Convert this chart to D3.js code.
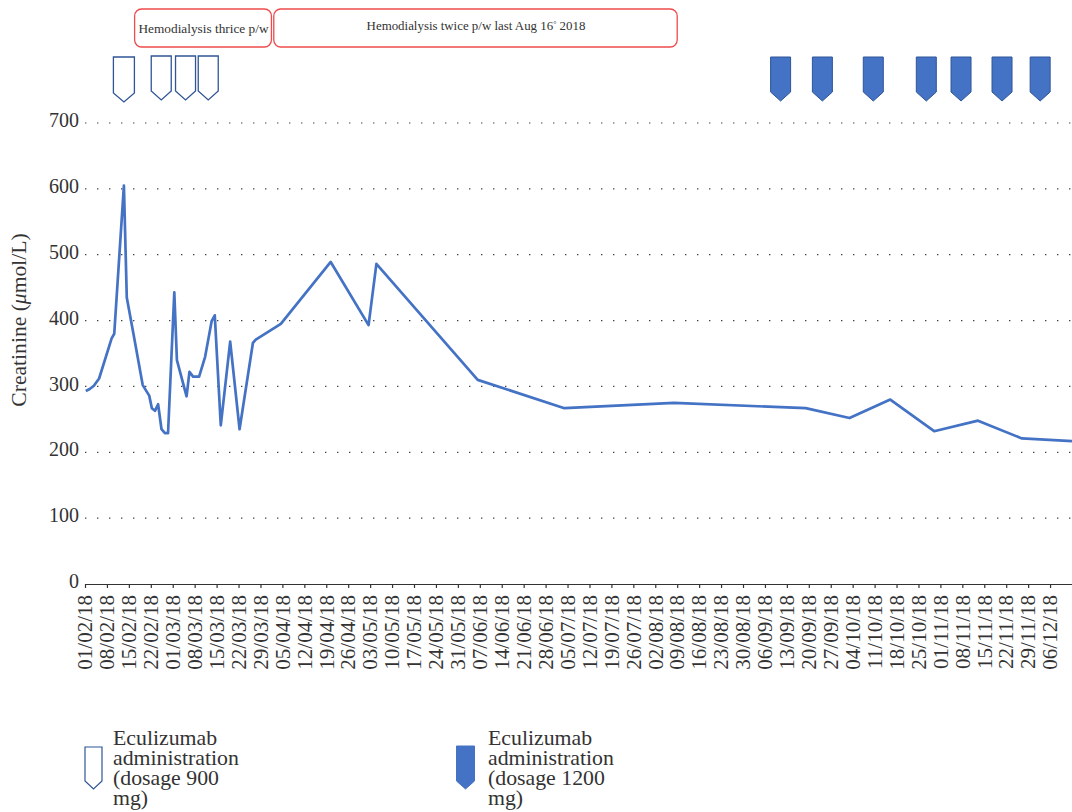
<!DOCTYPE html>
<html>
<head>
<meta charset="utf-8">
<script src="https://d3js.org/d3.v7.min.js"></script>
<style>
    html, body { margin: 0; padding: 0; background: #fff; }
    svg { display: block; }
    text { font-family: "Liberation Serif", serif; fill: #333; }
</style>
</head>
<body>
<div class="chart"></div>
<script>
// weekly tick dates on the x axis
const tickDates = ["01/02/18", "08/02/18", "15/02/18", "22/02/18", "01/03/18", "08/03/18", "15/03/18", "22/03/18", "29/03/18",
    "05/04/18", "12/04/18", "19/04/18", "26/04/18", "03/05/18", "10/05/18", "17/05/18", "24/05/18", "31/05/18",
    "07/06/18", "14/06/18", "21/06/18", "28/06/18", "05/07/18", "12/07/18", "19/07/18", "26/07/18",
    "02/08/18", "09/08/18", "16/08/18", "23/08/18", "30/08/18", "06/09/18", "13/09/18", "20/09/18", "27/09/18",
    "04/10/18", "11/10/18", "18/10/18", "25/10/18", "01/11/18", "08/11/18", "15/11/18", "22/11/18", "29/11/18", "06/12/18"]

const yTicks = [0, 100, 200, 300, 400, 500, 600, 700]

// creatinine series
const sampleDates = ["2018-02-01T06", "2018-02-02T12", "2018-02-03T20", "2018-02-05T12", "2018-02-09T12", "2018-02-10T08",
    "2018-02-13T10", "2018-02-14T08", "2018-02-16T10", "2018-02-19T10", "2018-02-21T12", "2018-02-22T08", "2018-02-23T08",
    "2018-02-24T08", "2018-02-25T10", "2018-02-26T12", "2018-02-27T12", "2018-03-01T12", "2018-03-02T08", "2018-03-05T10",
    "2018-03-06T08", "2018-03-07T12", "2018-03-09T10", "2018-03-11T08", "2018-03-13T10", "2018-03-14T10", "2018-03-16T08",
    "2018-03-19T08", "2018-03-22T08", "2018-03-26T14", "2018-03-27T12", "2018-04-04T12", "2018-04-20T10", "2018-05-02T12",
    "2018-05-05T00", "2018-06-06T08", "2018-07-04T00", "2018-08-08T00", "2018-09-19T00", "2018-10-03T00", "2018-10-16T00",
    "2018-10-30T00", "2018-11-13T00", "2018-11-27T00", "2018-12-13T00"]
const creatinine = [293, 296, 301, 312, 373, 380, 605, 435, 381, 302, 286, 267, 263, 273, 235, 229, 229, 443, 340, 285,
    322, 315, 315, 345, 399, 408, 241, 368, 235, 366, 371, 395, 489, 393, 486, 310, 267, 275, 267, 252, 280, 232, 248, 221, 217]

// eculizumab doses
const doses900 = ["2018-02-13T10", "2018-02-25T08", "2018-03-05T02", "2018-03-12T08"]
const doses1200 = ["2018-09-11T00", "2018-09-24T08", "2018-10-10T14", "2018-10-27T12", "2018-11-07T14", "2018-11-20T16", "2018-12-02T20"]

// hemodialysis periods
const dialysisStart = ["2018-02-16T20", "2018-04-02T06"]
const dialysisEnd = ["2018-04-01T12", "2018-08-09T00"]
const dialysisLabels = ["Hemodialysis thrice p/w", "Hemodialysis twice p/w last Aug 16° 2018"]

const legendLines900 = ["Eculizumab", "administration", "(dosage 900", "mg)"]
const legendLines1200 = ["Eculizumab", "administration", "(dosage 1200", "mg)"]

const width = 1072
const height = 812
const blue = "#4472C4"
const darkBlue = "#2F5597"

const parseTick = d3.utcParse("%d/%m/%y")
const parseSample = d3.utcParse("%Y-%m-%dT%H")

const svg = d3.select(".chart")
    .append("svg")
    .attr("width", width)
    .attr("height", height)

const x = d3.scaleUtc()
    .domain([parseTick("01/02/18"), parseTick("13/12/18")])
    .range([85, 1072])

const y = d3.scaleLinear()
    .domain([0, 700])
    .range([584, 123])

// dotted grid
svg.append("g")
    .selectAll("line")
    .data(yTicks.filter(d => d > 0))
    .join("line")
    .attr("x1", 85)
    .attr("x2", 1072)
    .attr("y1", d => y(d))
    .attr("y2", d => y(d))
    .attr("stroke", "#444")
    .attr("stroke-width", 1.2)
    .attr("stroke-dasharray", "1.4 10.6")

// y axis, labels only
const yAxis = svg.append("g")
    .attr("transform", "translate(85,0)")
    .call(d3.axisLeft(y).tickValues(yTicks).tickSize(0))
yAxis.select(".domain").remove()
yAxis.selectAll("text")
    .attr("x", -6)
    .attr("dy", "0.18em")
    .attr("font-size", 20)
    .attr("font-family", "Liberation Serif")
    .attr("fill", "#333")

const yLabel = svg.append("text")
    .attr("transform", "translate(25.5,320) rotate(-90)")
    .attr("text-anchor", "middle")
    .attr("font-size", 21.6)
yLabel.append("tspan").text("Creatinine (")
yLabel.append("tspan").attr("font-style", "italic").text("μ")
yLabel.append("tspan").text("mol/L)")

// x axis
const xAxis = svg.append("g")
    .attr("transform", "translate(0,584)")
    .call(d3.axisBottom(x)
        .tickValues(tickDates.map(parseTick))
        .tickSize(4)
        .tickSizeOuter(0)
        .tickFormat(d3.utcFormat("%d/%m/%y")))
xAxis.select(".domain").attr("stroke", "#333").attr("stroke-width", 1.2)
xAxis.selectAll(".tick line").attr("stroke", "#333").attr("stroke-width", 1.2)
xAxis.selectAll("text")
    .attr("transform", "rotate(-90)")
    .attr("text-anchor", "end")
    .attr("x", -11)
    .attr("y", 0)
    .attr("dy", "0.32em")
    .attr("font-size", 21)
    .attr("font-family", "Liberation Serif")
    .attr("fill", "#333")

// creatinine line
const line = d3.line()
    .x((d, i) => x(parseSample(sampleDates[i])))
    .y(d => y(d))

svg.append("path")
    .attr("d", line(creatinine))
    .attr("fill", "none")
    .attr("stroke", blue)
    .attr("stroke-width", 2.7)
    .attr("stroke-linejoin", "round")

// dose marker outline, pointing down
function pentagon(cx, top, w, shoulder, tip) {
    const p = d3.path()
    p.moveTo(cx - w / 2, top)
    p.lineTo(cx + w / 2, top)
    p.lineTo(cx + w / 2, shoulder)
    p.lineTo(cx, tip)
    p.lineTo(cx - w / 2, shoulder)
    p.closePath()
    return p.toString()
}

svg.append("g")
    .selectAll("path")
    .data(doses900)
    .join("path")
    .attr("d", (d, i) => i == 0
        ? pentagon(x(parseSample(d)), 57, 21, 93, 102)
        : pentagon(x(parseSample(d)), 56, 20, 91, 100))
    .attr("fill", "#fff")
    .attr("stroke", darkBlue)
    .attr("stroke-width", 1.3)

svg.append("g")
    .selectAll("path")
    .data(doses1200)
    .join("path")
    .attr("d", d => pentagon(x(parseSample(d)), 57, 20, 92, 101))
    .attr("fill", blue)
    .attr("stroke", darkBlue)
    .attr("stroke-width", 1)

// hemodialysis boxes
svg.append("g")
    .selectAll("rect")
    .data(dialysisLabels)
    .join("rect")
    .attr("x", (d, i) => x(parseSample(dialysisStart[i])))
    .attr("width", (d, i) => x(parseSample(dialysisEnd[i])) - x(parseSample(dialysisStart[i])))
    .attr("y", 9)
    .attr("height", 38)
    .attr("rx", 7)
    .attr("fill", "#fff")
    .attr("stroke", "#EE4B4B")
    .attr("stroke-width", 1.3)

const dialysisText = svg.append("g")
    .selectAll("text")
    .data(dialysisLabels)
    .join("text")
    .attr("x", (d, i) => i == 0
        ? (x(parseSample(dialysisStart[i])) + x(parseSample(dialysisEnd[i]))) / 2 + 0.5
        : 476)
    .attr("y", (d, i) => i == 0 ? 33 : 30)
    .attr("text-anchor", "middle")
    .attr("font-size", (d, i) => i == 0 ? 13.3 : 12.9)

// the degree sign sits raised and small in the second box
dialysisText.each(function(d) {
    const parts = d.split("°")
    const t = d3.select(this)
    t.append("tspan").text(parts[0])
    if (parts.length > 1) {
        t.append("tspan").attr("font-size", 8).attr("dy", -3).text("°")
        t.append("tspan").attr("dy", 3).text(parts[1])
    }
})

// legend
svg.append("path")
    .attr("d", pentagon(93.5, 747, 17, 781, 789))
    .attr("fill", "#fff")
    .attr("stroke", darkBlue)
    .attr("stroke-width", 1.2)

svg.append("path")
    .attr("d", pentagon(465.5, 746, 18, 781, 789))
    .attr("fill", blue)
    .attr("stroke", blue)

function legendText(lines, left) {
    svg.append("text")
        .attr("font-size", 21.8)
        .selectAll("tspan")
        .data(lines)
        .join("tspan")
        .attr("x", left)
        .attr("y", (d, i) => 745 + i * 20)
        .text(d => d)
}

legendText(legendLines900, 113)
legendText(legendLines1200, 488)
</script>
</body>
</html>
